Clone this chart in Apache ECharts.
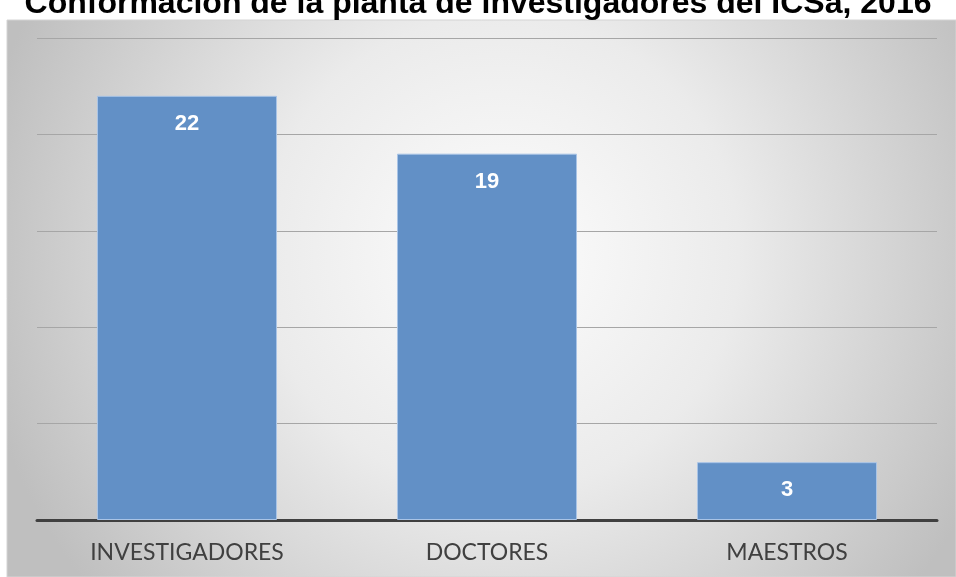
<!DOCTYPE html>
<html>
<head>
<meta charset="utf-8">
<script src="https://cdn.jsdelivr.net/npm/echarts@6/dist/echarts.min.js"></script>
<style>
  html, body { margin: 0; padding: 0; background: #fff; }
  #chart { width: 956px; height: 577px; }
</style>
</head>
<body>
<div id="chart"></div>
<script>
var categories = ["INVESTIGADORES", "DOCTORES", "MAESTROS"];
var values = [22, 19, 3];
var yMax = 25;
var yStep = 5;

var chart = echarts.init(document.getElementById("chart"));
var option = {
  backgroundColor: '#ffffff',
  animation: false,
  title: {
    text: 'Conformación de la planta de investigadores del ICSa, 2016',
    left: 'center',
    top: -17,
    textStyle: {
      fontFamily: 'Liberation Sans',
      fontWeight: 'bold',
      fontSize: 32,
      color: '#000'
    }
  },
  graphic: [{
    type: 'rect',
    z: -10,
    silent: true,
    shape: { x: 7, y: 20, width: 949, height: 557 },
    style: {
      // soft radial shading of the chart area
      fill: new echarts.graphic.RadialGradient(0.52, 0.42, 0.95, [
        { offset: 0, color: '#fdfdfd' },
        { offset: 0.45, color: '#ebebeb' },
        { offset: 1, color: '#bfbfbf' }
      ]),
      stroke: '#d4d4d4',
      lineWidth: 1
    }
  }],
  grid: { left: 37, right: 19, top: 38, bottom: 57 },
  xAxis: {
    type: 'category',
    data: categories,
    axisTick: { show: false },
    axisLine: { lineStyle: { color: '#404040', width: 3 } },
    axisLabel: {
      margin: 21,
      fontFamily: 'Lato',
      fontSize: 23,
      color: '#404040'
    }
  },
  yAxis: {
    type: 'value',
    min: 0,
    max: yMax,
    interval: yStep,
    axisLabel: { show: false },
    axisLine: { show: false },
    axisTick: { show: false },
    splitLine: { lineStyle: { color: '#a6a6a6', width: 1 } }
  },
  series: [{
    type: 'bar',
    data: values,
    barWidth: '60%',
    itemStyle: {
      color: '#6290c6',
      borderColor: '#a9c4e6',
      borderWidth: 1
    },
    label: {
      show: true,
      position: 'insideTop',
      distance: 17,
      fontFamily: 'Liberation Sans',
      fontWeight: 'bold',
      fontSize: 22,
      color: '#ffffff'
    }
  }]
};
chart.setOption(option);
</script>
</body>
</html>
